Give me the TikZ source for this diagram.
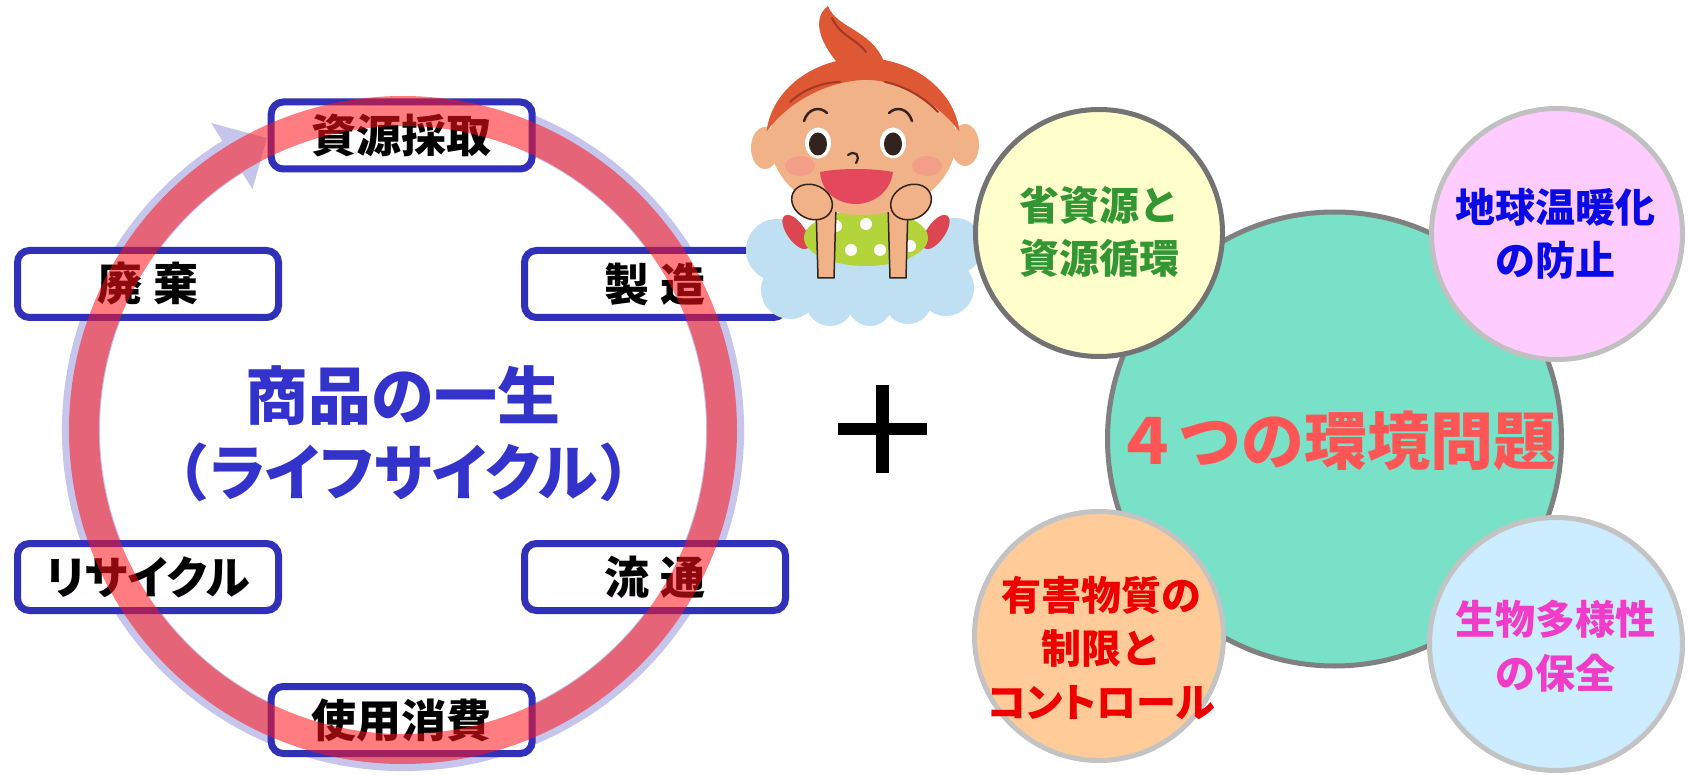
\documentclass[tikz,border=0pt]{standalone}
\usepackage{fontspec}
\usetikzlibrary{shadows}
\newfontfamily\jp{Noto Sans CJK JP}
\newfontfamily\jpp{Noto Sans CJK JP}[RawFeature=+palt]

\definecolor{boxblue}{RGB}{48,48,184}
\definecolor{ringred}{RGB}{255,20,25}
\definecolor{ringlav}{RGB}{198,198,236}
\definecolor{titleblue}{RGB}{51,51,204}
\definecolor{corefill}{RGB}{120,225,200}
\definecolor{yellowfill}{RGB}{255,255,204}
\definecolor{pinkfill}{RGB}{255,204,255}
\definecolor{orangefill}{RGB}{255,204,153}
\definecolor{bluefill}{RGB}{204,236,255}
\definecolor{txtgreen}{RGB}{51,150,51}
\definecolor{txtblue}{RGB}{10,10,230}
\definecolor{txtred}{RGB}{238,0,0}
\definecolor{txtmagenta}{RGB}{240,60,200}
\definecolor{txtcoral}{RGB}{255,85,85}
\definecolor{skin}{RGB}{242,178,135}
\definecolor{hair}{RGB}{222,88,52}
\definecolor{hairdark}{RGB}{165,55,35}
\definecolor{cloud}{RGB}{190,224,242}
\definecolor{shirt}{RGB}{180,212,60}
\definecolor{sleeve}{RGB}{220,70,80}
\definecolor{mouth}{RGB}{228,72,92}
\definecolor{eyedark}{RGB}{50,35,30}
\definecolor{blush}{RGB}{245,140,140}

\begin{document}
\begin{tikzpicture}[x=1pt,y=-1pt,
  stage/.style={draw=boxblue, line width=7pt, rounded corners=12pt, fill=white,
    minimum width=261pt, minimum height=67pt, inner sep=0pt,
    font=\jp\bfseries\fontsize{45}{50}\selectfont,
    drop shadow={shadow xshift=2pt, shadow yshift=-3pt, opacity=0.25}},
  titletext/.style={text=titleblue, inner sep=0pt},
  envc/.style={circle, line width=5pt, inner sep=0pt},
  envtext/.style={align=center, inner sep=0pt,
    font=\jp\bfseries\fontsize{40}{53.5}\selectfont},
]
\useasboundingbox (0,0) rectangle (1689,775);
\fill[white] (0,0) rectangle (1689,775);

% ---------- life cycle ----------
\coordinate (ringc) at (403,430);
% circular arrow behind the stages
\draw[ringlav, line width=38pt] (ringc) ++(-72:322) arc[start angle=-72, end angle=238.5, radius=322];
\fill[ringlav] ([shift={(238:284)}]ringc) -- ([shift={(245:322)}]ringc) -- ([shift={(238:362)}]ringc) -- cycle;

\node[stage] (extract) at (401.7,135.5) {資源採取};
\node[stage] (make)    at (655,284) {製 造};
\node[stage] (dist)    at (655,577) {流 通};
\node[stage] (use)     at (401.7,720) {使用消費};
\node[stage, font=\jpp\bfseries\fontsize{45}{50}\selectfont] (recycle) at (148,577) {リサイクル};
\node[stage] (waste)   at (148,284) {廃 棄};

% translucent ring over the stages
\draw[ringred, draw opacity=0.55, line width=30pt] (ringc) circle[radius=319];

\node[titletext, font=\jp\bfseries\fontsize{63}{70}\selectfont] (title1) at (403,396) {商品の一生};
\node[titletext, font=\jp\bfseries\fontsize{61}{70}\selectfont] (title2) at (404,472)
  {（{\jpp ライフサイクル}）};

% ---------- plus sign ----------
\coordinate (plus) at (882.5,429);
\draw[line width=12.5pt] ([xshift=-44.5pt]plus) -- ([xshift=44.5pt]plus);
\draw[line width=12.5pt] ([yshift=44pt]plus) -- ([yshift=-44pt]plus);

% ---------- girl on a cloud ----------
\fill[cloud] (777,250) circle[radius=31] (790,290) circle[radius=29]
  (830,302) circle[radius=24] (870,304) circle[radius=22] (908,300) circle[radius=24]
  (946,288) circle[radius=28] (955,246) circle[radius=28]
  (865,262) ellipse[x radius=85, y radius=45];
\fill[sleeve, rotate around={35:(796,232)}] (796,232) ellipse[x radius=9, y radius=20];
\fill[sleeve, rotate around={-35:(936,232)}] (936,232) ellipse[x radius=9, y radius=20];
\fill[shirt] (866,238) ellipse[x radius=62, y radius=28];
\foreach \p in {(836,226),(851,250),(880,250),(898,228),(866,224),(823,246),(910,246)}
  \fill[white] \p circle[radius=6];
\filldraw[fill=skin, draw=eyedark, line width=1.5pt] (816,205) -- (836,205) -- (834,278) -- (818,278) -- cycle;
\filldraw[fill=skin, draw=eyedark, line width=1.5pt] (888,205) -- (908,205) -- (906,278) -- (890,278) -- cycle;
% ears and head
\fill[skin] (765,148) ellipse[x radius=14, y radius=21] (965,145) ellipse[x radius=14, y radius=21];
\fill[skin] (863,140) ellipse[x radius=93, y radius=75];
% hair
\fill[hair] (863,140) ++(186:97 and 82) arc[start angle=186, end angle=354, x radius=97, y radius=82]
  .. controls (935,100) and (895,78) .. (862,80)
  .. controls (828,82) and (790,100) .. cycle;
\fill[hair] (842,68) .. controls (818,42) and (812,18) .. (828,6)
  .. controls (836,28) and (872,30) .. (884,62) -- cycle;
\draw[hairdark, line width=2pt, line cap=round] (832,18) .. controls (840,36) and (858,40) .. (866,52);
\draw[hairdark, line width=2pt, line cap=round] (790,102) .. controls (805,88) and (825,82) .. (840,82);
\draw[hairdark, line width=2pt, line cap=round] (885,82) .. controls (905,86) and (925,98) .. (938,112);
% face
\draw[eyedark, line width=2.5pt, line cap=round] (804,121) .. controls (808,108) and (820,106) .. (827,113);
\draw[eyedark, line width=2.5pt, line cap=round] (889,113) .. controls (896,106) and (908,108) .. (912,121);
\fill[white] (818,143) ellipse[x radius=13, y radius=15.5] (893,143) ellipse[x radius=13, y radius=15.5];
\fill[eyedark] (818,144) ellipse[x radius=9, y radius=11.5] (893,144) ellipse[x radius=9, y radius=11.5];
\draw[eyedark, line width=2.2pt, line cap=round] (848,155) .. controls (855,150) and (861,155) .. (856,163);
\fill[mouth] (820,172) .. controls (840,168) and (872,168) .. (893,172)
  .. controls (890,195) and (870,204) .. (856,204)
  .. controls (840,204) and (822,195) .. cycle;
\fill[blush, opacity=0.5] (800,166) ellipse[x radius=15, y radius=10] (927,166) ellipse[x radius=15, y radius=10];
% hands cupping the face
\filldraw[fill=skin, draw=eyedark, line width=1.5pt, rotate around={-25:(812,202)}] (812,202) ellipse[x radius=21, y radius=17];
\filldraw[fill=skin, draw=eyedark, line width=1.5pt, rotate around={25:(911,202)}] (911,202) ellipse[x radius=21, y radius=17];

% ---------- four environmental issues ----------
\node[envc, fill=corefill, draw={rgb,255:red,128;green,128;blue,128}, minimum size=454pt] (core) at (1334.5,439) {};
\node[envc, fill=yellowfill, draw={rgb,255:red,115;green,115;blue,115}, minimum size=247pt] (resource) at (1099,233) {};
\node[envc, fill=pinkfill, draw={rgb,255:red,192;green,192;blue,192}, minimum size=251pt] (climate) at (1557,234) {};
\node[envc, fill=orangefill, draw={rgb,255:red,195;green,195;blue,195}, minimum size=249pt] (chem) at (1099,636) {};
\node[envc, fill=bluefill, draw={rgb,255:red,195;green,195;blue,195}, minimum size=253pt] (bio) at (1556,644) {};

\node[inner sep=0pt, text=txtcoral, font=\jp\bfseries\fontsize{63}{70}\selectfont] (coretext) at (1336,441) {４つの環境問題};
\node[envtext, text=txtgreen] (resourcetext) at (1099,232) {省資源と\\資源循環};
\node[envtext, text=txtblue] (climatetext) at (1555,234) {地球温暖化\\の防止};
\node[envtext, text=txtred] (chemtext) at (1101,648) {有害物質の\\制限と\\{\jpp コントロール}};
\node[envtext, text=txtmagenta] (biotext) at (1555,646) {生物多様性\\の保全};
\end{tikzpicture}
\end{document}
